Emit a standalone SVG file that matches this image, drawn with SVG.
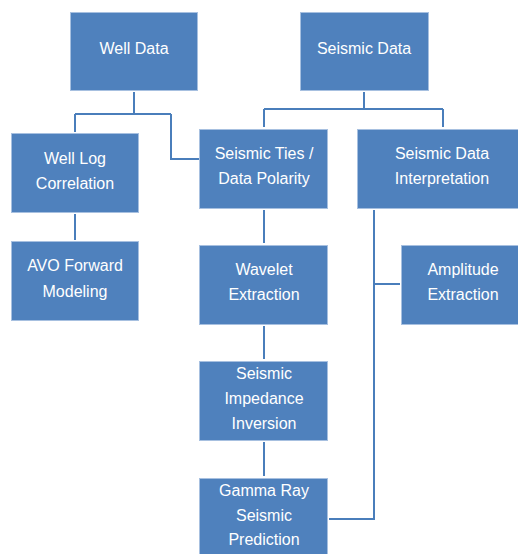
<svg xmlns="http://www.w3.org/2000/svg" width="518" height="554" viewBox="0 0 518 554">
<style>
.box{fill:#4f81bd;stroke:#a7c0e0;stroke-width:1}
.t{fill:#ffffff;font-family:"Liberation Sans",Arial,sans-serif;font-size:16px;text-anchor:middle;dominant-baseline:central}
.c{fill:none;stroke:#4a7ebb;stroke-width:2}
</style>
<rect width="518" height="554" fill="#ffffff"/>
<g id="connectors">
<path class="c" d="M134 92V114M75 114H171M75 114V132M171 114V159H199"/>
<path class="c" d="M364 92V109M264 109H443M264 109V127M443 109V127"/>
<path class="c" d="M75 214V240"/>
<path class="c" d="M264 210V243M264 326V359M264 442V476"/>
<path class="c" d="M374 210V519H329M374 284H400"/>
</g>
<g id="well-data"><rect class="box" x="70.5" y="12.5" width="127" height="78"/><text class="t" x="134" y="48">Well Data</text></g>
<g id="seismic-data"><rect class="box" x="300.5" y="12.5" width="128" height="78"/><text class="t" x="364" y="48">Seismic Data</text></g>
<g id="well-log-correlation"><rect class="box" x="11.5" y="133.5" width="127" height="79"/><text class="t" x="75" y="158">Well Log</text><text class="t" x="75" y="183">Correlation</text></g>
<g id="seismic-ties"><rect class="box" x="199.5" y="129.5" width="128" height="79"/><text class="t" x="264" y="153">Seismic Ties /</text><text class="t" x="264" y="178">Data Polarity</text></g>
<g id="seismic-data-interpretation"><rect class="box" x="357.5" y="129.5" width="162" height="79"/><text class="t" x="442" y="153">Seismic Data</text><text class="t" x="442" y="178">Interpretation</text></g>
<g id="avo-forward-modeling"><rect class="box" x="11.5" y="241.5" width="127" height="79"/><text class="t" x="75" y="265">AVO Forward</text><text class="t" x="75" y="291">Modeling</text></g>
<g id="wavelet-extraction"><rect class="box" x="199.5" y="245.5" width="128" height="79"/><text class="t" x="264" y="269">Wavelet</text><text class="t" x="264" y="294">Extraction</text></g>
<g id="amplitude-extraction"><rect class="box" x="401.5" y="245.5" width="118" height="79"/><text class="t" x="463" y="269">Amplitude</text><text class="t" x="463" y="294">Extraction</text></g>
<g id="seismic-impedance-inversion"><rect class="box" x="199.5" y="361.5" width="128" height="79"/><text class="t" x="264" y="373">Seismic</text><text class="t" x="264" y="398">Impedance</text><text class="t" x="264" y="423">Inversion</text></g>
<g id="gamma-ray-seismic-prediction"><rect class="box" x="199.5" y="478.5" width="128" height="80"/><text class="t" x="264" y="490">Gamma Ray</text><text class="t" x="264" y="515">Seismic</text><text class="t" x="264" y="539">Prediction</text></g>
</svg>
